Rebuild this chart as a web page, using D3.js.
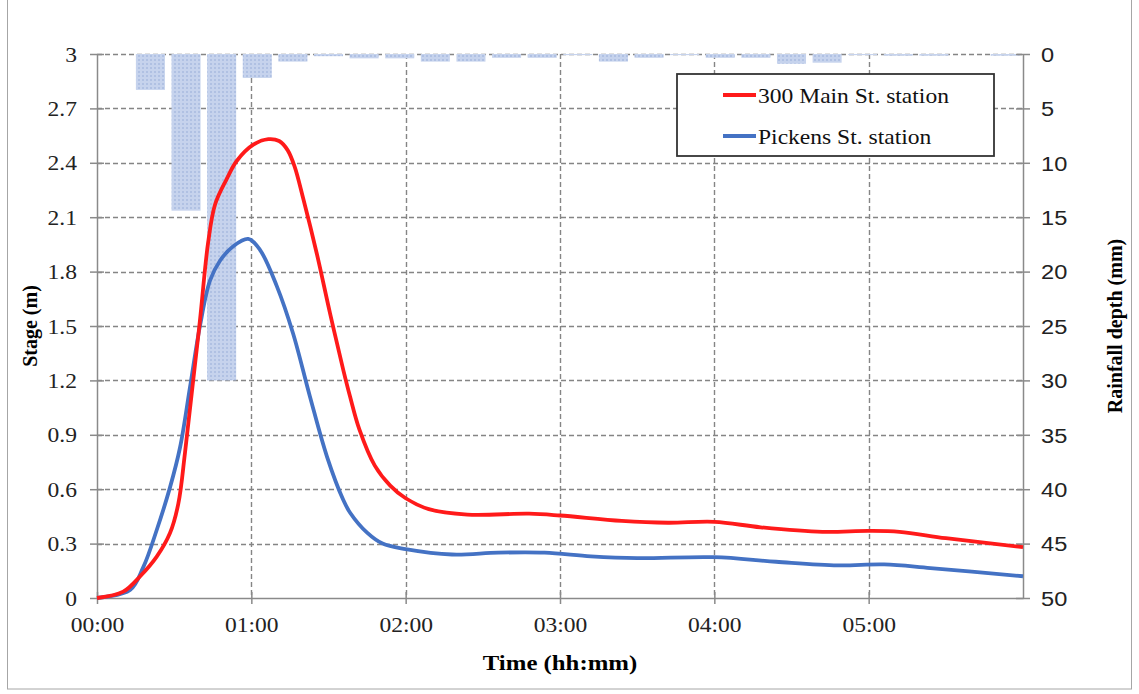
<!DOCTYPE html>
<html>
<head>
<meta charset="utf-8">
<script src="https://cdn.jsdelivr.net/npm/d3@7"></script>
<style>
  body { margin: 0; background: #fff; }
  .tickL text, .xTick text { font-family: "Liberation Serif", "Times New Roman", serif; font-size: 21px; fill: #222; }
  .tickR text { font-family: "Liberation Sans", Arial, sans-serif; font-size: 20px; fill: #222; }
  .title { font-family: "Liberation Serif", "Times New Roman", serif; font-size: 20px; font-weight: bold; fill: #000; }
  .legText { font-family: "Liberation Serif", "Times New Roman", serif; font-size: 22px; fill: #111; }
</style>
</head>
<body>
<div id="chart"></div>
<script>
var svgWidth = 1139;
var svgHeight = 694;

// plot box
var margin = { top: 54, right: 116, bottom: 96, left: 97 };
var width = svgWidth - margin.left - margin.right;   // 926
var height = svgHeight - margin.top - margin.bottom;  // 544

// rainfall (mm) per interval, 26 slots across the 6 hours
var rainSlots = d3.range(26);
var rainfall = [0, 3.3, 14.4, 30.0, 2.2, 0.7, 0.2, 0.4, 0.4, 0.7, 0.7, 0.35, 0.35,
  0.1, 0.7, 0.35, 0.1, 0.35, 0.35, 0.9, 0.8, 0.1, 0.15, 0.15, 0, 0.15];

// stage (m) vs time (hours)
var mainTime = [0, 0.17, 0.28, 0.387, 0.473, 0.527, 0.57, 0.614, 0.667, 0.72, 0.765, 0.84,
  0.905, 1.013, 1.11, 1.18, 1.235, 1.28, 1.337, 1.424, 1.51, 1.596, 1.64, 1.70, 1.80, 1.90, 2.0,
  2.15, 2.4, 2.8, 3.0, 3.4, 3.7, 4.0, 4.3, 4.7, 5.0, 5.2, 5.5, 6.0];
var mainStage = [0, 0.035, 0.12, 0.228, 0.358, 0.52, 0.80, 1.13, 1.53, 1.96, 2.17, 2.31,
  2.41, 2.50, 2.53, 2.52, 2.47, 2.38, 2.20, 1.90, 1.57, 1.257, 1.11, 0.93, 0.73, 0.62, 0.55,
  0.49, 0.46, 0.465, 0.455, 0.425, 0.415, 0.42, 0.39, 0.365, 0.37, 0.365, 0.33, 0.28];

var pickTime = [0, 0.214, 0.30, 0.387, 0.473, 0.538, 0.603, 0.667, 0.732, 0.797, 0.883,
  0.98, 1.056, 1.165, 1.27, 1.38, 1.49, 1.596, 1.64, 1.75, 1.85, 2.0, 2.3, 2.6, 2.9, 3.2,
  3.5, 4.0, 4.4, 4.8, 5.1, 5.4, 6.0];
var pickStage = [0, 0.044, 0.17, 0.375, 0.61, 0.83, 1.165, 1.50, 1.75, 1.86, 1.94,
  1.98, 1.92, 1.72, 1.46, 1.11, 0.78, 0.54, 0.47, 0.36, 0.30, 0.27, 0.24, 0.25, 0.25, 0.23,
  0.22, 0.225, 0.20, 0.18, 0.185, 0.165, 0.12];

var stageTicks = [0, 0.3, 0.6, 0.9, 1.2, 1.5, 1.8, 2.1, 2.4, 2.7, 3];
var rainTicks = [0, 5, 10, 15, 20, 25, 30, 35, 40, 45, 50];
var hourTicks = [0, 1, 2, 3, 4, 5];

var seriesNames = ["300 Main St. station", "Pickens St. station"];
var seriesColors = ["#ff1a1a", "#4472c4"];

const svg = d3.select("#chart")
  .append("svg")
  .attr("width", svgWidth)
  .attr("height", svgHeight);

// outer frame
svg.append("rect")
  .attr("x", 7.5).attr("y", -5)
  .attr("width", 1124).attr("height", 694)
  .attr("fill", "none")
  .attr("stroke", "#a6a6a6");

var chartGroup = svg.append("g")
  .attr("transform", `translate(${margin.left}, ${margin.top})`);

// scales
var xScale = d3.scaleLinear().domain([0, 6]).range([0, width]);
var yScale = d3.scaleLinear().domain([0, 3]).range([height, 0]);
var rainScale = d3.scaleLinear().domain([0, 50]).range([0, height]);
var slotScale = d3.scaleBand().domain(rainSlots).range([0, width])
  .paddingInner(0.185).paddingOuter(0.0925);

// gridlines
chartGroup.selectAll(".hgrid")
  .data(stageTicks.filter(d => d > 0))
  .enter().append("line")
  .attr("x1", 0).attr("x2", width)
  .attr("y1", d => Math.round(yScale(d)) + 0.5)
  .attr("y2", d => Math.round(yScale(d)) + 0.5)
  .attr("stroke", "#858585")
  .attr("stroke-width", 1.4)
  .attr("stroke-dasharray", "5,3");

chartGroup.selectAll(".vgrid")
  .data(hourTicks.filter(d => d > 0))
  .enter().append("line")
  .attr("x1", d => Math.round(xScale(d)) + 0.5)
  .attr("x2", d => Math.round(xScale(d)) + 0.5)
  .attr("y1", 0).attr("y2", height)
  .attr("stroke", "#858585")
  .attr("stroke-width", 1.4)
  .attr("stroke-dasharray", "5,3");

// dotted fill pattern for rainfall bars
var defs = svg.append("defs");
var pat = defs.append("pattern")
  .attr("id", "rainPat")
  .attr("patternUnits", "userSpaceOnUse")
  .attr("width", 4).attr("height", 4);
pat.append("rect").attr("width", 4).attr("height", 4).attr("fill", "#c6d3ed");
pat.append("rect").attr("x", 1).attr("y", 1).attr("width", 2).attr("height", 2).attr("fill", "#b0c1e3");

// rainfall bars hanging from the top
chartGroup.selectAll(".rainBar")
  .data(rainfall)
  .enter().append("rect")
  .attr("class", "rainBar")
  .attr("x", (d, i) => slotScale(rainSlots[i]))
  .attr("y", 0)
  .attr("width", slotScale.bandwidth())
  .attr("height", d => rainScale(d))
  .attr("fill", "url(#rainPat)");

// axes
var leftAxis = d3.axisLeft(yScale).tickValues(stageTicks).tickSize(7).tickSizeOuter(0)
  .tickFormat(d => d3.format("")(+d.toFixed(1)));
var gL = chartGroup.append("g").attr("class", "tickL").call(leftAxis);
gL.selectAll(".tick line").attr("x2", 7).attr("x1", -7);
gL.selectAll("text").attr("x", -20).attr("dy", "0.34em");

var rightAxis = d3.axisRight(d3.scaleLinear().domain([0, 50]).range([0, height]))
  .tickValues(rainTicks).tickSize(7).tickSizeOuter(0);
var gR = chartGroup.append("g").attr("class", "tickR")
  .attr("transform", `translate(${width}, 0)`).call(rightAxis);
gR.selectAll(".tick line").attr("x1", -7).attr("x2", 7);
gR.selectAll("text").attr("x", 18).attr("dy", "0.36em");

var bottomAxis = d3.axisBottom(xScale).tickValues(hourTicks).tickSize(6).tickSizeOuter(0)
  .tickFormat(d => d3.format("02")(d) + ":00");
var gB = chartGroup.append("g").attr("class", "xTick")
  .attr("transform", `translate(0, ${height})`).call(bottomAxis);
gB.selectAll(".tick line").attr("y1", -6).attr("y2", 6);
gB.selectAll("text").attr("y", 19).attr("dy", "0.71em");

[gL, gR, gB].forEach(function (g) {
  g.select(".domain").attr("stroke", "#8a8a8a").attr("stroke-width", 1.5);
  g.selectAll(".tick line").attr("stroke", "#8a8a8a").attr("stroke-width", 1.5);
});

// stage lines
var line = d3.line()
  .x(d => xScale(d[0]))
  .y(d => yScale(d[1]))
  .curve(d3.curveCatmullRom.alpha(0.5));

var seriesData = [
  mainTime.map((t, i) => [t, mainStage[i]]),
  pickTime.map((t, i) => [t, pickStage[i]])
];

// blue drawn first, red on top at the crossing
[1, 0].forEach(function (k) {
  chartGroup.append("path")
    .datum(seriesData[k])
    .attr("d", line)
    .attr("fill", "none")
    .attr("stroke", seriesColors[k])
    .attr("stroke-width", 3.8)
    .attr("stroke-linejoin", "round");
});

// axis titles
svg.append("text")
  .attr("class", "title")
  .attr("transform", `translate(37, ${margin.top + height / 2}) rotate(-90)`)
  .attr("text-anchor", "middle")
  .text("Stage (m)");

svg.append("text")
  .attr("class", "title")
  .attr("transform", `translate(1122, ${margin.top + height / 2}) rotate(-90)`)
  .attr("text-anchor", "middle")
  .text("Rainfall depth (mm)");

svg.append("text")
  .attr("class", "title wide")
  .attr("x", 560)
  .attr("y", 670)
  .attr("text-anchor", "middle")
  .style("font-size", "21px")
  .text("Time (hh:mm)");

// legend
var legend = svg.append("g").attr("transform", "translate(677, 74)");
legend.append("rect")
  .attr("width", 317).attr("height", 82)
  .attr("fill", "#fff")
  .attr("stroke", "#333")
  .attr("stroke-width", 1.8);

seriesNames.forEach(function (name, i) {
  var yy = 21 + i * 41;
  legend.append("line")
    .attr("x1", 46).attr("x2", 79)
    .attr("y1", yy).attr("y2", yy)
    .attr("stroke", seriesColors[i])
    .attr("stroke-width", 3.8);
  legend.append("text")
    .attr("class", "legText")
    .attr("x", 81)
    .attr("y", yy + 8)
    .text(name);
});

// the reference text is a bit wider than these fonts, stretch horizontally
function widen(sel, k) {
  sel.each(function () {
    var len = this.getComputedTextLength();
    d3.select(this).attr("textLength", len * k).attr("lengthAdjust", "spacingAndGlyphs");
  });
}
widen(gL.selectAll("text"), 1.12);
widen(gB.selectAll("text"), 1.12);
widen(gR.selectAll("text"), 1.18);
widen(svg.selectAll(".wide"), 1.18);
widen(legend.selectAll("text"), 1.07);
</script>
</body>
</html>
